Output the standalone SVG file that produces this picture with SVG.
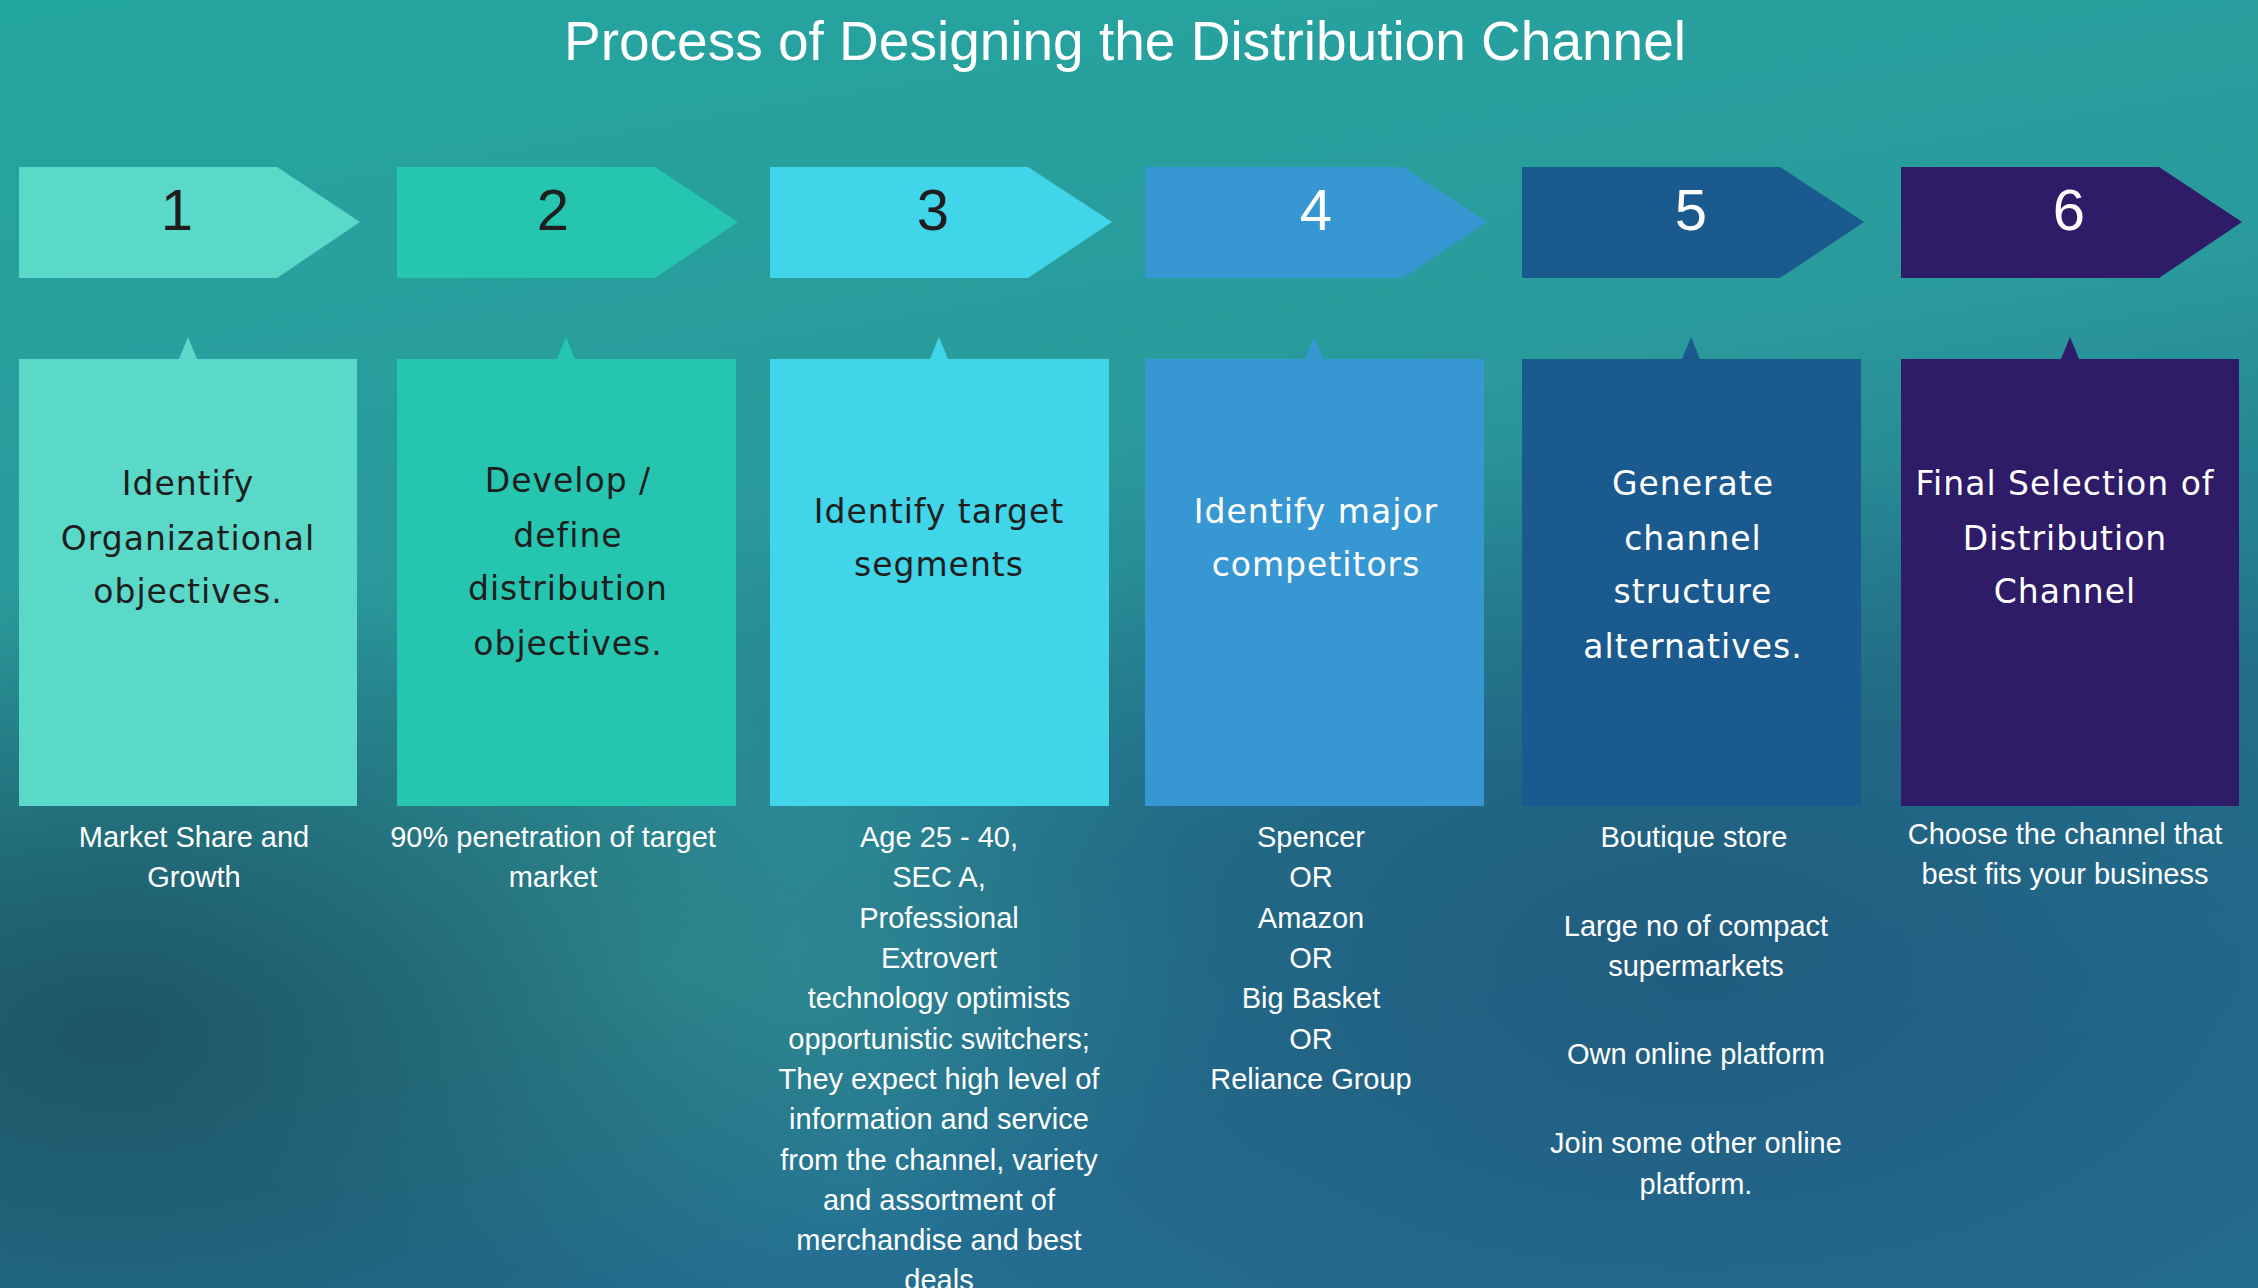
<svg xmlns="http://www.w3.org/2000/svg" width="2258" height="1288" viewBox="0 0 2258 1288">
<defs>
<linearGradient id="bg" x1="0" y1="0" x2="0.3" y2="1">
<stop offset="0" stop-color="#24a6a0"/><stop offset="0.45" stop-color="#2a9a9c"/><stop offset="0.75" stop-color="#23728a"/><stop offset="1" stop-color="#246e92"/>
</linearGradient>
<radialGradient id="dk" cx="0.05" cy="0.8" r="0.35">
<stop offset="0" stop-color="#1c4f5c" stop-opacity="0.8"/><stop offset="1" stop-color="#1c4f5c" stop-opacity="0"/>
</radialGradient>
<radialGradient id="lt" cx="0.3" cy="0.75" r="0.25">
<stop offset="0" stop-color="#3aa8a0" stop-opacity="0.6"/><stop offset="1" stop-color="#3aa8a0" stop-opacity="0"/>
</radialGradient>
<radialGradient id="bl" cx="0.75" cy="0.75" r="0.4">
<stop offset="0" stop-color="#1f5478" stop-opacity="0.7"/><stop offset="1" stop-color="#1f5478" stop-opacity="0"/>
</radialGradient>
</defs>
<style>
.t{font-family:"Liberation Sans",Arial,sans-serif;fill:#fff}
.n{font-family:"Liberation Sans",Arial,sans-serif;font-size:58px;text-anchor:middle}
.b{font-family:"DejaVu Sans","Open Sans",sans-serif;font-size:33px;text-anchor:middle;letter-spacing:1px}
.s{font-family:"Liberation Sans",Arial,sans-serif;font-size:29px;fill:#fff;text-anchor:middle}
.d{fill:#1e1e1e}.w{fill:#fff}
</style>
<rect width="2258" height="1288" fill="url(#bg)"/>
<rect width="2258" height="1288" fill="url(#lt)"/>
<rect width="2258" height="1288" fill="url(#bl)"/>
<rect width="2258" height="1288" fill="url(#dk)"/>
<text class="t" x="1125" y="60" font-size="55" text-anchor="middle">Process of Designing the Distribution Channel</text>
<g id="connectors"></g>
<g id="step1">
<path d="M19 167H277L360 222L277 278H19Z" fill="#5ad9c8"/>
<text class="n d" x="177" y="230">1</text>
<path d="M19 359H357V806H19Z M179 359L188 337L197 359Z" fill="#5ad9c8"/>
<text class="b d" x="188"><tspan x="188" y="495">Identify</tspan><tspan x="188" y="550">Organizational</tspan><tspan x="188" y="603">objectives.</tspan></text>
<text class="s"><tspan x="194" y="847">Market Share and</tspan><tspan x="194" y="887">Growth</tspan></text>
</g>
<g id="step2">
<path d="M397 167H655L738 222L655 278H397Z" fill="#26c5b0"/>
<text class="n d" x="553" y="230">2</text>
<path d="M397 359H736V806H397Z M557 359L566 337L575 359Z" fill="#26c5b0"/>
<text class="b d"><tspan x="568" y="492">Develop /</tspan><tspan x="568" y="547">define</tspan><tspan x="568" y="600">distribution</tspan><tspan x="568" y="655">objectives.</tspan></text>
<text class="s"><tspan x="553" y="847">90% penetration of target</tspan><tspan x="553" y="887">market</tspan></text>
</g>
<g id="step3">
<path d="M770 167H1028L1112 222L1028 278H770Z" fill="#40d5e8"/>
<text class="n d" x="933" y="230">3</text>
<path d="M770 359H1109V806H770Z M930 359L939 337L948 359Z" fill="#40d5e8"/>
<text class="b d"><tspan x="939" y="523">Identify target</tspan><tspan x="939" y="576">segments</tspan></text>
<text class="s"><tspan x="939" y="847">Age 25 - 40,</tspan><tspan x="939" y="887">SEC A,</tspan><tspan x="939" y="928">Professional</tspan><tspan x="939" y="968">Extrovert</tspan><tspan x="939" y="1008">technology optimists</tspan><tspan x="939" y="1049">opportunistic switchers;</tspan><tspan x="939" y="1089">They expect high level of</tspan><tspan x="939" y="1129">information and service</tspan><tspan x="939" y="1170">from the channel, variety</tspan><tspan x="939" y="1210">and assortment of</tspan><tspan x="939" y="1250">merchandise and best</tspan><tspan x="939" y="1290">deals</tspan></text>
</g>
<g id="step4">
<path d="M1145 167H1403L1487 222L1403 278H1145Z" fill="#3697d3"/>
<text class="n w" x="1316" y="230">4</text>
<path d="M1145 359H1484V806H1145Z M1305 359L1314 337L1323 359Z" fill="#3697d3"/>
<text class="b w"><tspan x="1316" y="523">Identify major</tspan><tspan x="1316" y="576">competitors</tspan></text>
<text class="s"><tspan x="1311" y="847">Spencer</tspan><tspan x="1311" y="887">OR</tspan><tspan x="1311" y="928">Amazon</tspan><tspan x="1311" y="968">OR</tspan><tspan x="1311" y="1008">Big Basket</tspan><tspan x="1311" y="1049">OR</tspan><tspan x="1311" y="1089">Reliance Group</tspan></text>
</g>
<g id="step5">
<path d="M1522 167H1780L1864 222L1780 278H1522Z" fill="#1a5a8e"/>
<text class="n w" x="1691" y="230">5</text>
<path d="M1522 359H1861V806H1522Z M1682 359L1691 337L1700 359Z" fill="#1a5a8e"/>
<text class="b w"><tspan x="1693" y="495">Generate</tspan><tspan x="1693" y="550">channel</tspan><tspan x="1693" y="603">structure</tspan><tspan x="1693" y="658">alternatives.</tspan></text>
<text class="s"><tspan x="1694" y="847">Boutique store</tspan><tspan x="1696" y="936">Large no of compact</tspan><tspan x="1696" y="976">supermarkets</tspan><tspan x="1696" y="1064">Own online platform</tspan><tspan x="1696" y="1153">Join some other online</tspan><tspan x="1696" y="1194">platform.</tspan></text>
</g>
<g id="step6">
<path d="M1901 167H2159L2242 222L2159 278H1901Z" fill="#2e1c68"/>
<text class="n w" x="2069" y="230">6</text>
<path d="M1901 359H2239V806H1901Z M2061 359L2070 337L2079 359Z" fill="#2e1c68"/>
<text class="b w"><tspan x="2065" y="495">Final Selection of</tspan><tspan x="2065" y="550">Distribution</tspan><tspan x="2065" y="603">Channel</tspan></text>
<text class="s"><tspan x="2065" y="844">Choose the channel that</tspan><tspan x="2065" y="884">best fits your business</tspan></text>
</g>
</svg>
